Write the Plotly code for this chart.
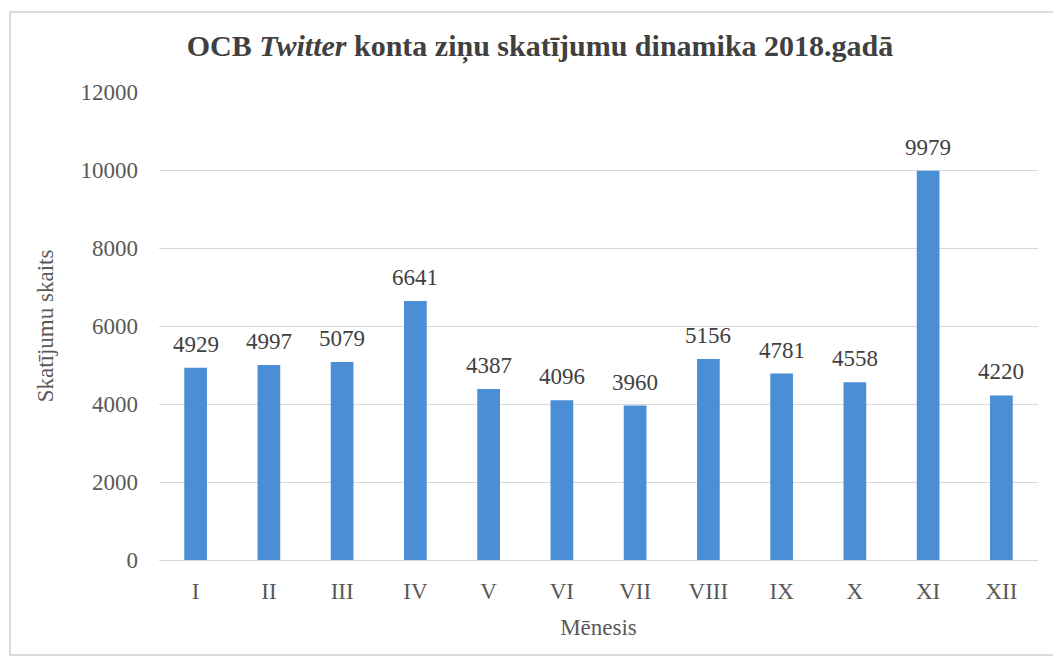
import plotly.graph_objects as go

months = ["I", "II", "III", "IV", "V", "VI", "VII", "VIII", "IX", "X", "XI", "XII"]
views = [4929, 4997, 5079, 6641, 4387, 4096, 3960, 5156, 4781, 4558, 9979, 4220]
y_ticks = [0, 2000, 4000, 6000, 8000, 10000, 12000]
y_tick_text = ["0", "2000", "4000", "6000", "8000", "10000", "12000"]

FONT = "Liberation Serif, Times New Roman, serif"
W, H = 1053, 659
L, R, T, B = 159, 15, 92, 99

fig = go.Figure(go.Bar(
    x=months, y=views,
    marker=dict(color="#4a8fd6", line=dict(width=0)),
    width=0.31,
    hoverinfo="x+y",
))

pw = W - L - R
ph = H - T - B
def px(x): return (x - L) / pw
def py(y): return (H - B - y) / ph

annotations = [
    dict(x=m, y=v, xref="x", yref="y", text=str(v), showarrow=False,
         yanchor="bottom", yshift=9,
         font=dict(family=FONT, size=23, color="#404040"))
    for m, v in zip(months, views)
]

fig.update_layout(
    width=W, height=H,
    margin=dict(l=L, r=R, t=T, b=B),
    paper_bgcolor="white", plot_bgcolor="white",
    showlegend=False,
    annotations=annotations,
    title=dict(
        text="OCB <i>Twitter</i> konta ziņu skatījumu dinamika 2018.gadā",
        x=540 / W, xanchor="center", y=1 - 45 / H, yanchor="middle",
        font=dict(family=FONT, size=30, color="#404040", weight="bold"),
    ),
    font=dict(family=FONT, color="#595959"),
    xaxis=dict(
        showgrid=False, showline=True, linecolor="#d9d9d9", linewidth=1,
        ticks="", tickfont=dict(family=FONT, size=23, color="#595959"),
        ticklabelstandoff=10,
        title=dict(text="Mēnesis", font=dict(family=FONT, size=23, color="#595959"), standoff=16),
    ),
    yaxis=dict(
        range=[0, 12000], tickvals=y_ticks, ticktext=y_tick_text,
        showgrid=True, gridcolor="#d9d9d9", gridwidth=1,
        zeroline=False, showline=False, ticks="",
        tickfont=dict(family=FONT, size=23, color="#595959"),
        ticklabelstandoff=20,
        title=dict(text="Skatījumu skaits", font=dict(family=FONT, size=23, color="#595959"), standoff=20),
    ),
    shapes=[dict(type="rect", xref="paper", yref="paper",
                 x0=px(10), x1=px(1060), y0=py(12), y1=py(655),
                 line=dict(color="#d0d0d0", width=1.5), fillcolor="rgba(0,0,0,0)", layer="below")],
)

fig.write_html("out.html", config={"displayModeBar": False},
               post_script="document.body.style.margin='0';")
